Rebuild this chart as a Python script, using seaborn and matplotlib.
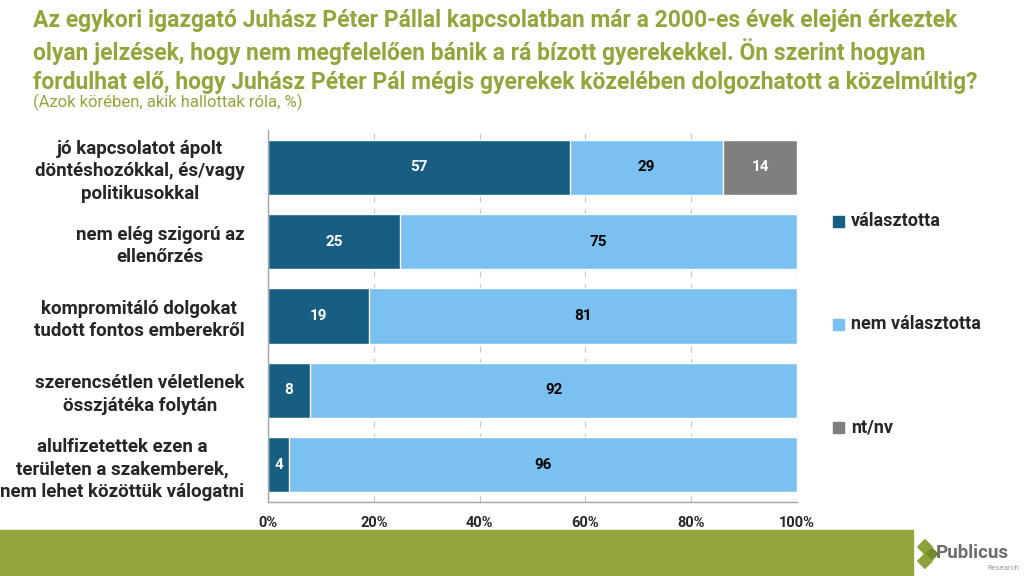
import numpy as np
import pandas as pd
import matplotlib
matplotlib.use("Agg")
import matplotlib.pyplot as plt
import seaborn as sns
from matplotlib.patches import Rectangle

# ------------------------------------------------------------
# Adatok
# ------------------------------------------------------------

categories = [
    "jó kapcsolatot ápolt\ndöntéshozókkal, és/vagy\npolitikusokkal",
    "nem elég szigorú az\nellenőrzés",
    "kompromitáló dolgokat\ntudott fontos emberekről",
    "szerencsétlen véletlenek\nösszjátéka folytán",
    "alulfizetettek ezen a\nterületen a szakemberek,\nnem lehet közöttük válogatni",
]
valasztotta = [57, 25, 19, 8, 4]
nem_valasztotta = [29, 75, 81, 92, 96]
ntnv = [14, 0, 0, 0, 0]
series_names = ["választotta", "nem választotta", "nt/nv"]
x_ticks = [0, 20, 40, 60, 80, 100]

title_lines = [
    "Az egykori igazgató Juhász Péter Pállal kapcsolatban már a 2000-es évek elején érkeztek",
    "olyan jelzések, hogy nem megfelelően bánik a rá bízott gyerekekkel. Ön szerint hogyan",
    "fordulhat elő, hogy Juhász Péter Pál mégis gyerekek közelében dolgozhatott a közelmúltig?",
]
subtitle = "(Azok körében, akik hallottak róla, %)"

colors = ["#175E82", "#7AC1F2", "#7F7F7F"]
olive = "#94A63B"

sns.set_style("white")
plt.rcParams["font.family"] = ["Roboto", "DejaVu Sans"]

df = pd.DataFrame({
    "cat": categories,
    "v1": valasztotta,
    "v2": nem_valasztotta,
    "v3": ntnv,
})
df["c1"] = df["v1"]
df["c2"] = df["v1"] + df["v2"]
df["c3"] = df["c2"] + df["v3"]

fig = plt.figure(figsize=(10.24, 5.76), dpi=100)
ax = fig.add_axes([268 / 1024, 1 - 502 / 576, (797 - 268) / 1024, 372 / 576])

# totaux cumulés, du plus grand au plus petit -> barres empilées
for col, color, name in zip(["c3", "c2", "c1"], colors[::-1], series_names[::-1]):
    sns.barplot(data=df, x=col, y="cat", color=color, width=0.74,
                orient="h", ax=ax, label=name, saturation=1, zorder=2)

# étiquettes des valeurs
for i, row in df.iterrows():
    left = 0
    for v, tc in zip([row["v1"], row["v2"], row["v3"]], ["white", "black", "white"]):
        if v > 0:
            ax.text(left + v / 2, i, str(v), ha="center", va="center",
                    color=tc, fontsize=11, fontweight="bold", zorder=3)
        left += v

ax.set_xlim(0, 100)
ax.set_ylim(len(categories) - 0.5, -0.5)
ax.set_xticks(x_ticks)
ax.set_xticklabels([f"{t}%" for t in x_ticks], fontsize=10.5, fontweight="bold")
ax.set_yticks(range(len(categories)))
ax.set_yticklabels(categories, fontsize=13.5, fontweight="bold",
                   multialignment="center", linespacing=1.32)
ax.tick_params(axis="y", length=0, pad=17)
ax.tick_params(axis="x", length=5, color="#A6A6A6", direction="out", pad=5)
ax.set_yticks(np.arange(-0.5, len(categories), 1), minor=True)
ax.tick_params(axis="y", which="minor", length=5, color="#A6A6A6", direction="out")
ax.set_xlabel("")
ax.set_ylabel("")

ax.grid(axis="x", linestyle=(0, (5, 5)), color="#C8C8C8", linewidth=0.9, zorder=0)
ax.set_axisbelow(True)
for s in ["top", "right"]:
    ax.spines[s].set_visible(False)
for s in ["left", "bottom"]:
    ax.spines[s].set_color("#A6A6A6")
    ax.spines[s].set_linewidth(1)

# légende
if ax.get_legend() is not None:
    ax.get_legend().remove()
leg_y = [1 - 221 / 576, 1 - 324 / 576, 1 - 427 / 576]
for c, name, y in zip(colors, series_names, leg_y):
    fig.patches.append(Rectangle((833 / 1024, y - 5.5 / 576), 11 / 1024, 11 / 576,
                                 transform=fig.transFigure, color=c, figure=fig))
    fig.text(851 / 1024, y, name, fontsize=13, fontweight="bold",
             va="center", ha="left")

# titre (ligne par ligne pour un interligne régulier)
for line, yc in zip(title_lines, [20, 52, 83]):
    fig.text(33 / 1024, 1 - yc / 576, line, fontsize=16.5, fontweight="bold",
             color=olive, va="center", ha="left")
fig.text(33 / 1024, 1 - 102 / 576, subtitle, fontsize=12,
         color=olive, va="center", ha="left")

# bande olive en bas
fig.patches.append(Rectangle((0, 0), 913 / 1024, 46 / 576, transform=fig.transFigure,
                             color=olive, figure=fig, zorder=0))

# logo
logo_ax = fig.add_axes([915 / 1024, 0, 109 / 1024, 46 / 576])
logo_ax.set_xlim(0, 109)
logo_ax.set_ylim(0, 46)
logo_ax.axis("off")
logo_ax.scatter([10, 17, 10], [29, 22, 15], marker="D", s=[55, 35, 55],
                color=["#8DA23A", "#6E8C2A", "#8DA23A"])
logo_ax.text(21, 23, "Publicus", fontsize=13.5, fontweight="bold",
             color="#6D6D6D", va="center", ha="left")
logo_ax.text(104, 8, "Research", fontsize=5.5, color="#9A9A9A",
             va="center", ha="right")

fig.savefig("out.png", dpi=100)
